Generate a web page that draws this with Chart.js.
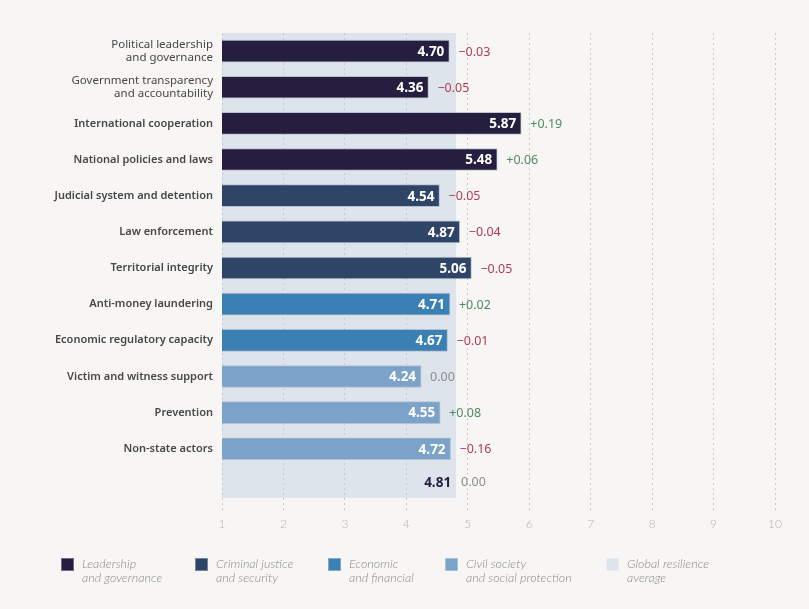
<!DOCTYPE html>
<html>
<head>
<meta charset="utf-8">
<script src="https://cdn.jsdelivr.net/npm/chart.js@4.4.1/dist/chart.umd.min.js"></script>
<style>
  html, body { margin: 0; padding: 0; background: #f7f6f4; }
  #wrap { position: relative; width: 809px; height: 609px; overflow: hidden; }
  #c { position: absolute; left: 0; top: 0; }
  .lg-box { position: absolute; width: 13px; height: 13px; box-sizing: border-box; border: 1px solid rgba(255,255,255,0.35); }
  .lg-txt { position: absolute; font-family: Lato, "Noto Sans", sans-serif; font-style: italic; font-weight: 300; font-size: 12.5px; line-height: 14px; color: #8a8a8a; white-space: nowrap; }
</style>
</head>
<body>
<div id="wrap">
  <canvas id="c" width="809" height="609"></canvas>
  <div id="legend"></div>
</div>
<script>
// ---------- DATA ----------
const categories = [
  ["Political leadership", "and governance"],
  ["Government transparency", "and accountability"],
  "International cooperation",
  "National policies and laws",
  "Judicial system and detention",
  "Law enforcement",
  "Territorial integrity",
  "Anti-money laundering",
  "Economic regulatory capacity",
  "Victim and witness support",
  "Prevention",
  "Non-state actors"
];
const scores  = [4.70, 4.36, 5.87, 5.48, 4.54, 4.87, 5.06, 4.71, 4.67, 4.24, 4.55, 4.72];
const changes = [-0.03, -0.05, 0.19, 0.06, -0.05, -0.04, -0.05, 0.02, -0.01, 0.00, 0.08, -0.16];
const groupOf = [0, 0, 0, 0, 1, 1, 1, 2, 2, 3, 3, 3];
const groupNames = [
  ["Leadership", "and governance"],
  ["Criminal justice", "and security"],
  ["Economic", "and financial"],
  ["Civil society", "and social protection"],
  ["Global resilience", "average"]
];
const groupColors = ["#251e3f", "#2f4568", "#3b80b2", "#7ba2c8", "#dde4ec"];
const globalAverage = 4.81;
const globalChange = 0.00;
const xTicks = [1, 2, 3, 4, 5, 6, 7, 8, 9, 10];

// ---------- HELPERS ----------
function fmtChange(v) {
  if (v > 0) return "+" + v.toFixed(2);
  if (v < 0) return "\u2212" + Math.abs(v).toFixed(2);
  return "0.00";
}
function changeColor(v) {
  if (v > 0) return "#4f8a63";
  if (v < 0) return "#b33a55";
  return "#8c8c8c";
}

const labels = categories.concat([""]);
const barValues = scores.concat([null]);
const barColors = groupOf.map(g => groupColors[g]).concat(["rgba(0,0,0,0)"]);

// ---------- PLUGINS ----------
const bandPlugin = {
  id: "band",
  beforeDraw(chart) {
    const { ctx, scales: { x, y }, chartArea } = chart;
    const x0 = x.getPixelForValue(x.min);
    const x1 = x.getPixelForValue(globalAverage);
    const yTop = chartArea.top;
    const yBot = y.getPixelForValue(labels.length - 1) + 13;
    ctx.save();
    ctx.fillStyle = groupColors[4];
    ctx.fillRect(x0, yTop, x1 - x0, yBot - yTop);
    ctx.restore();
  }
};

const labelPlugin = {
  id: "vals",
  afterDatasetsDraw(chart) {
    const { ctx, scales: { x, y } } = chart;
    const meta = chart.getDatasetMeta(0);
    ctx.save();
    ctx.textBaseline = "middle";
    meta.data.forEach((bar, i) => {
      if (i >= scores.length) return;
      ctx.font = "bold 13.5px 'Noto Sans', sans-serif";
      ctx.fillStyle = "#ffffff";
      ctx.textAlign = "right";
      ctx.fillText(scores[i].toFixed(2), bar.x - 5, bar.y + 1);
      ctx.font = "12.5px 'Noto Sans', sans-serif";
      ctx.fillStyle = changeColor(changes[i]);
      ctx.textAlign = "left";
      ctx.fillText(fmtChange(changes[i]), bar.x + 9, bar.y + 1);
    });
    // global average row
    const ya = y.getPixelForValue(labels.length - 1) - 2;
    const xa = x.getPixelForValue(globalAverage);
    ctx.font = "bold 13.5px 'Noto Sans', sans-serif";
    ctx.fillStyle = groupColors[0];
    ctx.textAlign = "right";
    ctx.fillText(globalAverage.toFixed(2), xa - 5, ya);
    ctx.font = "12.5px 'Noto Sans', sans-serif";
    ctx.fillStyle = changeColor(globalChange);
    ctx.textAlign = "left";
    ctx.fillText(fmtChange(globalChange), xa + 5, ya);
    ctx.restore();
  }
};

// ---------- CHART ----------
new Chart(document.getElementById("c"), {
  type: "bar",
  data: {
    labels: labels,
    datasets: [{
      data: barValues,
      backgroundColor: barColors,
      borderColor: "rgba(150,160,180,0.55)",
      borderWidth: 1,
      borderSkipped: "start",
      barThickness: 22
    }]
  },
  options: {
    indexAxis: "y",
    responsive: false,
    animation: false,
    devicePixelRatio: 1,
    layout: { padding: { top: 33, right: 34, bottom: 78, left: 0 } },
    plugins: { legend: { display: false }, tooltip: { enabled: false } },
    scales: {
      x: {
        type: "linear",
        min: xTicks[0],
        max: xTicks[xTicks.length - 1],
        afterBuildTicks: s => { s.ticks = xTicks.map(v => ({ value: v })); },
        afterFit: s => { s.height = 28; },
        border: { display: false, dash: [2, 3] },
        grid: {
          color: "#c9c9c9",
          lineWidth: 1,
          tickBorderDash: [2, 3],
          tickColor: "#c9c9c9",
          tickLength: 8,
          drawOnChartArea: true
        },
        ticks: {
          padding: 6,
          color: "#b4b4b4",
          font: { family: "Lato, 'Noto Sans', sans-serif", size: 12, weight: 300 }
        }
      },
      y: {
        afterFit: s => { s.width = 222; },
        border: { display: false },
        grid: { display: false, drawTicks: false, tickLength: 0 },
        ticks: {
          padding: 9,
          color: "#474747",
          font: ctx => ({
            family: "'Noto Sans', sans-serif",
            size: ctx.index < 2 ? 11.5 : 11,
            weight: ctx.index < 2 ? "normal" : "600",
            lineHeight: 1.15
          })
        }
      }
    }
  },
  plugins: [bandPlugin, labelPlugin]
});

// ---------- LEGEND (HTML) ----------
const lgBoxX = [61, 195, 328, 445, 606];
const lg = document.getElementById("legend");
groupNames.forEach((name, i) => {
  const b = document.createElement("div");
  b.className = "lg-box";
  b.style.left = lgBoxX[i] + "px";
  b.style.top = "558px";
  b.style.background = groupColors[i];
  lg.appendChild(b);
  const t = document.createElement("div");
  t.className = "lg-txt";
  t.style.left = (lgBoxX[i] + 21) + "px";
  t.style.top = "557px";
  t.innerHTML = name.join("<br>");
  lg.appendChild(t);
});
</script>
</body>
</html>
